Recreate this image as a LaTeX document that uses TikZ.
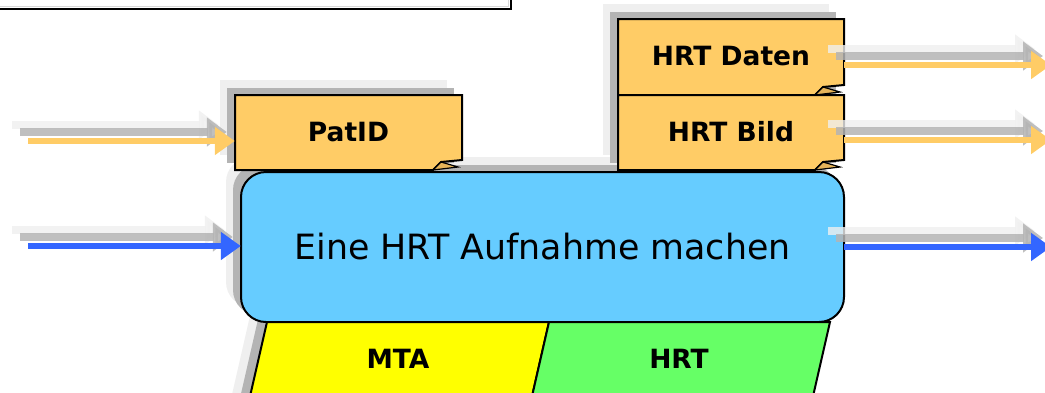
\documentclass[tikz,border=0pt]{standalone}
\usepackage{fontspec}
\setmainfont{DejaVu Sans}
\usetikzlibrary{arrows.meta}
\definecolor{boxorange}{HTML}{FFCC66}
\definecolor{boxblue}{HTML}{66CCFF}
\definecolor{arrblue}{HTML}{3366FF}
\definecolor{foldtan}{HTML}{E6B45A}
\definecolor{mtayellow}{HTML}{FFFF00}
\definecolor{hrtgreen}{HTML}{66FF66}
\definecolor{shdark}{HTML}{B4B4B4}
\definecolor{shlight}{HTML}{EFEFEF}
\newcommand\dogbox[4]{%
  \draw[outline, fill=boxorange] (#1,#2) -- (#3,#2) -- (#3,#4-10) -- (#3-21,#4-8) -- (#3-29,#4) -- (#1,#4) -- cycle;
  \draw[line width=1.2pt, fill=foldtan, line join=miter] (#3-21,#4-8) -- (#3-29,#4) -- (#3-4,#4-3) -- cycle;}
\begin{document}
\begin{tikzpicture}[x=1pt,y=-1pt,
  outline/.style={draw=black, line width=2pt, line join=miter},
  lab/.style={font=\bfseries\fontsize{26.5}{30}\selectfont, inner sep=0pt},
  mainlab/.style={font=\fontsize{34.8}{40}\selectfont, inner sep=0pt},
  flow/.style={line width=6.5pt, -{Triangle[length=20pt,width=27pt]}},
  flowshade/.style={line width=8pt, -{Triangle[length=20pt,width=28pt]}}
]
\useasboundingbox (0,0) rectangle (1045,392);

% top frame
\draw[shlight!80!gray, line width=1.5pt] (-5,6.5) -- (508.5,6.5) -- (508.5,-5);
\draw[black, line width=2.2pt] (-5,9) -- (511,9) -- (511,-5);

% box shadows
\begin{scope}[shift={(-15,-15)}, fill=shlight]
  \fill (235,95) rectangle (462,170);
  \fill (618,19) rectangle (844,170);
  \fill[rounded corners=25pt] (241,172) rectangle (844,322);
  \fill (267,322) -- (830,322) -- (807.6,420) -- (244.6,420) -- cycle;
\end{scope}
\begin{scope}[shift={(-8,-7)}, fill=shdark]
  \fill (235,95) rectangle (462,170);
  \fill (618,19) rectangle (844,170);
  \fill[rounded corners=25pt] (241,172) rectangle (844,322);
  \fill (267,322) -- (830,322) -- (807.6,420) -- (244.6,420) -- cycle;
\end{scope}

% boxes
\dogbox{235}{95}{462}{170}
\dogbox{618}{19}{844}{95}
\dogbox{618}{95}{844}{170}
\draw[outline, fill=boxblue, rounded corners=25pt] (241,172) rectangle (844,322);
\draw[outline, fill=mtayellow] (267,322) -- (549,322) -- (526.6,420) -- (244.6,420) -- cycle;
\draw[outline, fill=hrtgreen] (549,322) -- (830,322) -- (807.6,420) -- (526.6,420) -- cycle;

% nodes
\node[lab, minimum width=227pt, minimum height=75pt] (patid) at (348.5,132.5) {PatID};
\node[lab, minimum width=226pt, minimum height=76pt] (daten) at (731,56.5) {HRT Daten};
\node[lab, minimum width=226pt, minimum height=75pt] (bild) at (731,132) {HRT Bild};
\node[mainlab, minimum width=603pt, minimum height=150pt] (main) at (542.5,246.5) {Eine HRT Aufnahme machen};
\node[lab] (mta) at (398,359) {MTA};
\node[lab] (hrt) at (679,359) {HRT};

% arrow ends
\coordinate (inP) at (28,141);
\coordinate (inM) at (28,246);
\coordinate (outD) at (1051,65);
\coordinate (outB) at (1051,140);
\coordinate (outM) at (1051,247);

% arrow shadows
\begin{scope}[transform canvas={shift={(-16,-16)}}, shlight, opacity=0.8]
  \draw[flowshade] (inP) -- (inP -| patid.west);
  \draw[flowshade] (inM) -- (inM -| main.west);
  \draw[flowshade] (daten.east |- outD) -- (outD);
  \draw[flowshade] (bild.east |- outB) -- (outB);
  \draw[flowshade] (main.east |- outM) -- (outM);
\end{scope}
\begin{scope}[transform canvas={shift={(-8,-9)}}, shdark, opacity=0.85]
  \draw[flowshade] (inP) -- (inP -| patid.west);
  \draw[flowshade] (inM) -- (inM -| main.west);
  \draw[flowshade] (daten.east |- outD) -- (outD);
  \draw[flowshade] (bild.east |- outB) -- (outB);
  \draw[flowshade] (main.east |- outM) -- (outM);
\end{scope}

% arrows
\draw[flow, boxorange] (inP) -- (inP -| patid.west);
\draw[flow, arrblue] (inM) -- (inM -| main.west);
\draw[flow, boxorange] (daten.east |- outD) -- (outD);
\draw[flow, boxorange] (bild.east |- outB) -- (outB);
\draw[flow, arrblue] (main.east |- outM) -- (outM);
\end{tikzpicture}
\end{document}
